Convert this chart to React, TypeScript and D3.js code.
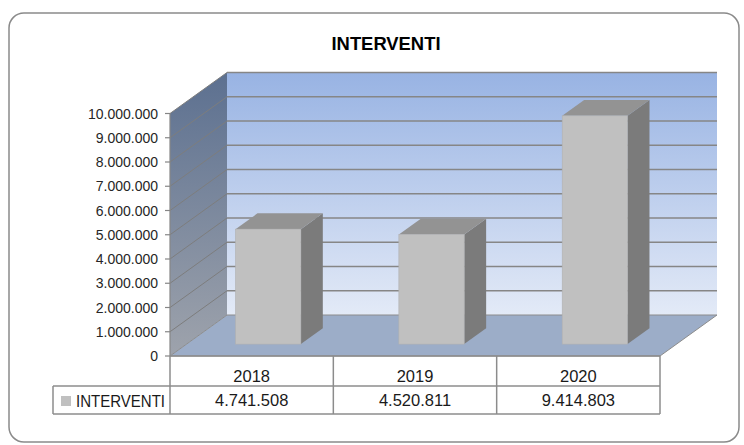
import React from "react";
import * as d3 from "d3";

const categories = ["2018", "2019", "2020"];
const seriesName = "INTERVENTI";
const values = [4741508, 4520811, 9414803];
const yTicks = [0, 1000000, 2000000, 3000000, 4000000, 5000000, 6000000, 7000000, 8000000, 9000000, 10000000];
const title = "INTERVENTI";

const W = 744;
const H = 445;
const X0 = 170;
const X1 = 660;
const Y0 = 356;
const DX = 57;
const DY = -41;
const F0 = 0.29;
const F1 = 0.675;

const fmt = (v: number) => d3.format(",")(v).replace(/,/g, ".");

export default function App() {
  const y = d3.scaleLinear().domain([0, 10000000]).range([Y0, 113.5]);
  const band = d3.scaleBand<string>().domain(categories).range([X0, X1]).paddingInner(0.6).paddingOuter(0.3);
  const cols = d3.scaleBand<string>().domain(categories).range([X0, X1]);
  const P = (x: number, yy: number, d: number) => `${x + DX * d},${yy + DY * d}`;
  const yTop = y(10000000);

  const font = "'Liberation Sans', Arial, sans-serif";

  return (
    <svg width={W} height={H} style={{ position: "absolute", left: 0, top: 0, display: "block" }} fontFamily={font}>
      <defs>
        <linearGradient id="back" x1="0" y1="0" x2="0" y2="1">
          <stop offset="0" stopColor="#98b3e3" />
          <stop offset="1" stopColor="#e3eaf7" />
        </linearGradient>
        <linearGradient id="side" x1="0" y1="0" x2="0" y2="1">
          <stop offset="0" stopColor="#5c7090" />
          <stop offset="1" stopColor="#9ea3ac" />
        </linearGradient>
      </defs>
      <rect x={0} y={0} width={W} height={H} fill="#fff" />
      <rect x={9} y={13} width={730} height={429} rx={15} ry={15} fill="#fff" stroke="#8a8a8a" strokeWidth={1.5} />
      <text x={386} y={49.5} textAnchor="middle" fontSize={18} fontWeight="bold" fill="#000" textLength={109} lengthAdjust="spacingAndGlyphs">{title}</text>

      {/* back wall */}
      <polygon
        points={[P(X0, y(0), 1), P(X1, y(0), 1), P(X1, yTop, 1), P(X0, yTop, 1)].join(" ")}
        fill="url(#back)"
      />
      {/* left wall */}
      <polygon
        points={[P(X0, y(0), 0), P(X0, y(0), 1), P(X0, yTop, 1), P(X0, yTop, 0)].join(" ")}
        fill="url(#side)"
      />
      {/* floor */}
      <polygon
        points={[P(X0, y(0), 0), P(X1, y(0), 0), P(X1, y(0), 1), P(X0, y(0), 1)].join(" ")}
        fill="#9cadc8"
        stroke="#8c8c8c"
        strokeWidth={1}
      />
      {/* gridlines */}
      {yTicks.map((t) => (
        <g key={t}>
          {t > 0 && (
            <line x1={X0 + DX} x2={X1 + DX} y1={y(t) + DY} y2={y(t) + DY} stroke="#868686" strokeWidth={1.5} />
          )}
          {t > 0 && (
            <line x1={X0} x2={X0 + DX} y1={y(t)} y2={y(t) + DY} stroke="#7d7d7d" strokeWidth={1} />
          )}
        </g>
      ))}
      {/* y axis */}
      <line x1={X0} x2={X0} y1={y(0)} y2={yTop} stroke="#868686" strokeWidth={1.2} />
      {yTicks.map((t) => (
        <g key={"l" + t}>
          <line x1={X0 - 5} x2={X0} y1={y(t)} y2={y(t)} stroke="#868686" strokeWidth={1.2} />
          <text x={158} y={y(t) + 5} textAnchor="end" fontSize={14} fill="#262626">{fmt(t)}</text>
        </g>
      ))}

      {/* bars */}
      {categories.map((c, i) => {
        const bx = band(c)! + DX * F0;
        const bw = band.bandwidth();
        const yb = y(0) + DY * F0;
        const yt = y(values[i]) + DY * F0;
        const dd = F1 - F0;
        const ddx = DX * dd;
        const ddy = DY * dd;
        return (
          <g key={c}>
            <polygon
              points={`${bx + bw},${yt} ${bx + bw + ddx},${yt + ddy} ${bx + bw + ddx},${yb + ddy} ${bx + bw},${yb}`}
              fill="#7b7b7b"
            />
            <polygon
              points={`${bx},${yt} ${bx + ddx},${yt + ddy} ${bx + bw + ddx},${yt + ddy} ${bx + bw},${yt}`}
              fill="#939393"
            />
            <rect x={bx} y={yt} width={bw} height={yb - yt} fill="#c0c0c0" stroke="#b0b0b0" strokeWidth={0.6} />
          </g>
        );
      })}

      {/* data table */}
      <g stroke="#8c8c8c" strokeWidth={1.5} fill="none">
        <line x1={X0} x2={X1} y1={356} y2={356} />
        <line x1={53} x2={X1} y1={386} y2={386} />
        <line x1={53} x2={X1} y1={414} y2={414} />
        <line x1={53} x2={53} y1={386} y2={414} />
        <line x1={X0} x2={X0} y1={356} y2={414} />
        {categories.map((c) => (
          <line key={c} x1={cols(c)! + cols.bandwidth()} x2={cols(c)! + cols.bandwidth()} y1={356} y2={414} />
        ))}
      </g>
      {categories.map((c, i) => (
        <g key={"t" + c}>
          <text x={cols(c)! + cols.bandwidth() / 2} y={381.5} textAnchor="middle" fontSize={16.5} fill="#1a1a1a">{c}</text>
          <text x={cols(c)! + cols.bandwidth() / 2} y={405.5} textAnchor="middle" fontSize={16.5} fill="#1a1a1a">{fmt(values[i])}</text>
        </g>
      ))}
      <rect x={61} y={396} width={10} height={10} fill="#c0c0c0" />
      <text x={76} y={406.5} fontSize={16.3} fill="#1a1a1a" textLength={89} lengthAdjust="spacingAndGlyphs">{seriesName}</text>
    </svg>
  );
}
